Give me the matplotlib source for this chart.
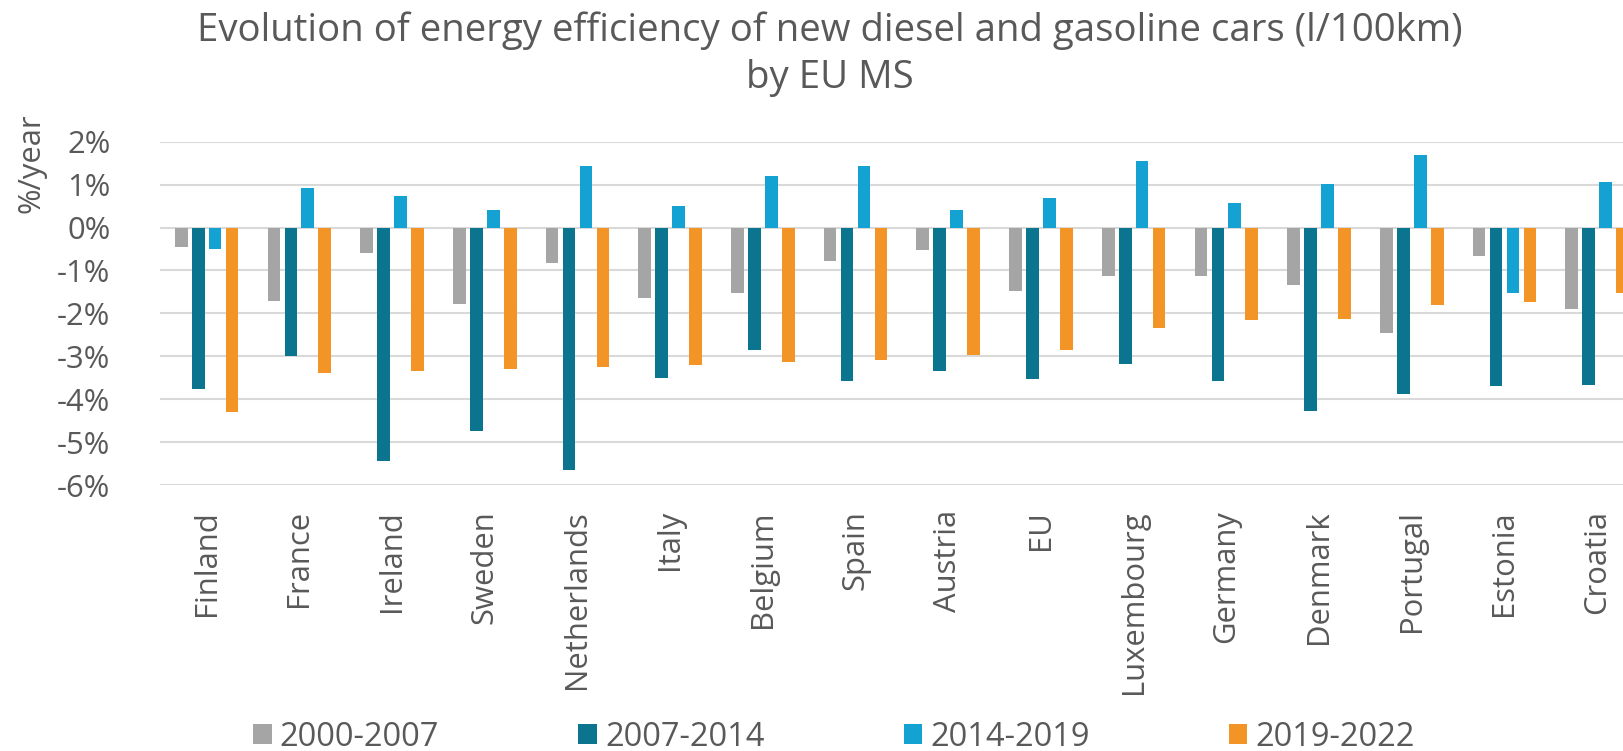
import matplotlib
matplotlib.use("Agg")
import matplotlib.pyplot as plt
import numpy as np
from matplotlib.ticker import FuncFormatter

plt.rcParams['font.family'] = ['Open Sans', 'DejaVu Sans']

countries = ["Finland", "France", "Ireland", "Sweden", "Netherlands", "Italy", "Belgium",
             "Spain", "Austria", "EU", "Luxembourg", "Germany", "Denmark", "Portugal",
             "Estonia", "Croatia"]
series_names = ["2000-2007", "2007-2014", "2014-2019", "2019-2022"]

p2000_2007 = [-0.46, -1.72, -0.59, -1.78, -0.82, -1.65, -1.53, -0.79, -0.53, -1.48,
              -1.14, -1.13, -1.34, -2.46, -0.67, -1.90]
p2007_2014 = [-3.76, -2.99, -5.43, -4.73, -5.64, -3.50, -2.86, -3.58, -3.34, -3.52,
              -3.17, -3.58, -4.28, -3.88, -3.69, -3.66]
p2014_2019 = [-0.51, 0.92, 0.73, 0.41, 1.43, 0.49, 1.19, 1.43, 0.42, 0.69,
              1.56, 0.57, 1.02, 1.70, -1.52, 1.06]
p2019_2022 = [-4.30, -3.38, -3.34, -3.29, -3.25, -3.20, -3.13, -3.08, -2.98, -2.85,
              -2.33, -2.15, -2.13, -1.81, -1.74, -1.52]

colors = ["#A5A5A5", "#0B758F", "#14A2D3", "#F39426"]
text_color = "#595959"

W, H = 1623, 751
fig = plt.figure(figsize=(W / 100, H / 100), dpi=100)

left_px, right_px = 160.3, 160.3 + 16 * 92.7
top_px, bottom_px = 141.7, 485.0
ax = fig.add_axes([left_px / W, 1 - bottom_px / H,
                   (right_px - left_px) / W, (bottom_px - top_px) / H])

x = np.arange(len(countries))
bw = 0.137
step = 0.183
data = [p2000_2007, p2007_2014, p2014_2019, p2019_2022]
handles = []
for i, (vals, c, name) in enumerate(zip(data, colors, series_names)):
    b = ax.bar(x + (i - 1.5) * step, vals, width=bw, color=c, label=name,
               zorder=3, linewidth=0)
    handles.append(b)

ax.set_xlim(-0.5, len(countries) - 0.5)
ax.set_ylim(-6, 2)
ax.set_yticks(np.arange(-6, 3, 1))
ax.yaxis.set_major_formatter(FuncFormatter(lambda v, p: f"{int(round(v))}%"))
ax.grid(axis='y', color='#D9D9D9', linewidth=1.5, zorder=0)
ax.set_axisbelow(True)
for s in ax.spines.values():
    s.set_visible(False)

ax.set_xticks(x)
ax.set_xticklabels(countries, rotation=90, va='top', ha='center')
ax.tick_params(axis='x', length=0, pad=18, labelsize=22.3, labelcolor=text_color)
ax.tick_params(axis='y', length=0, pad=36, labelsize=22.3, labelcolor=text_color)

fig.text(31 / W, 1 - 163 / H, "%/year", rotation=90, ha='center', va='center',
         fontsize=22.3, color=text_color)

fig.text(830 / W, 1 - 54 / H,
         "Evolution of energy efficiency of new diesel and gasoline cars (l/100km)\nby EU MS",
         ha='center', va='center', fontsize=27.6, color=text_color, linespacing=1.3)

fig.legend(handles=handles, labels=series_names, loc='center',
           bbox_to_anchor=(834 / W, 1 - 737 / H), ncol=4, frameon=False,
           fontsize=23.5, labelcolor=text_color, handlelength=0.57, handleheight=0.57,
           handletextpad=0.25, columnspacing=4.26, borderpad=0, borderaxespad=0)

fig.savefig("out.png", dpi=100)
